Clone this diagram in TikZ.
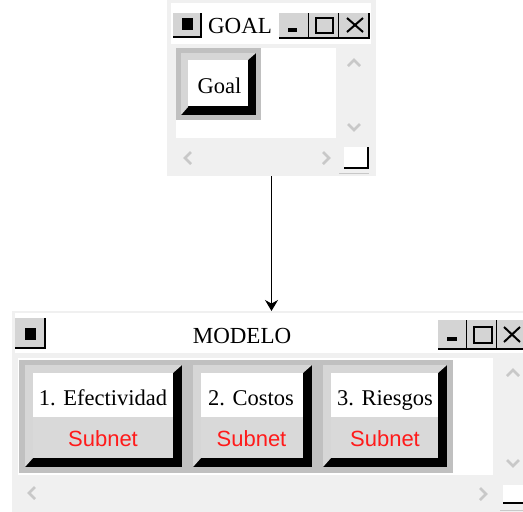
\documentclass[tikz,border=0pt]{standalone}
\usepackage{fontspec}
\setmainfont{Liberation Serif}
\newfontfamily\subfont{Liberation Sans}
\usetikzlibrary{arrows.meta}
\definecolor{winbg}{HTML}{F0F0F0}
\definecolor{framegray}{HTML}{C0C0C0}
\definecolor{bevel}{HTML}{D6D6D6}
\definecolor{facegray}{HTML}{D9D9D9}
\definecolor{chev}{HTML}{C8C8C8}
\definecolor{btngray}{HTML}{D4D4D4}
\definecolor{subred}{HTML}{FF1A1A}
% bevelled button: x0 y0 x1 y1 light dark
\newcommand\bevbtn[6]{%
  \fill[black] (#1,#2) rectangle (#3,#4);
  \fill[bevel] (#1,#4) -- (#1,#2) -- (#3,#2) -- (#3-#6,#2+#5) -- (#1+#5,#2+#5) -- (#1+#5,#4-#6) -- cycle;
}
% small title-bar button: x0 y0 x1 y1
\newcommand\tbtn[4]{%
  \fill[btngray] (#1,#2) rectangle (#3,#4);
  \draw[black, line width=1.6pt] (#1,#4) -- (#3,#4) -- (#3,#2);
}
\begin{document}
\begin{tikzpicture}[x=1pt,y=-1pt,
  winbox/.style={draw=none, fill=winbg, inner sep=0pt, outer sep=0pt, anchor=north west},
  lbl/.style={inner sep=0pt, anchor=base, font=\fontsize{22.5}{25}\selectfont},
  ttl/.style={inner sep=0pt, anchor=base, font=\fontsize{23}{26}\selectfont},
  sub/.style={inner sep=0pt, anchor=base, text=subred, font=\subfont\fontsize{22}{25}\selectfont},
  chevline/.style={draw=chev, line width=2.6pt},
  glyph/.style={draw=black, line width=2pt},
  conn/.style={draw=black, line width=1.2pt, -{Stealth[length=11pt,width=13pt]}}]
\useasboundingbox (0,0) rectangle (523,512);
\fill[white] (0,0) rectangle (523,512);

% ---------- GOAL window ----------
\node[winbox, minimum width=209pt, minimum height=176pt] (goalwin) at (167,0) {};
\fill[white] (171,3) rectangle (371,44);
\tbtn{173}{13}{201}{37}
\fill[black] (182,18) rectangle (193,30);
\node[ttl] (goaltitle) at (240,33) {GOAL};
\tbtn{279}{13}{309}{38}
\fill[black] (288,28) rectangle (297,32);
\tbtn{309}{13}{339}{38}
\draw[glyph] (316,18) rectangle (333,33);
\tbtn{339}{13}{369}{38}
\draw[glyph] (347,18) -- (363,32) (363,18) -- (347,32);
\fill[white] (176,48) rectangle (336,138);
\fill[framegray] (176,48) rectangle (261,120);
\bevbtn{181}{53}{256}{115}{7}{8}
\fill[white] (188,60) rectangle (248,106);
\node[lbl] (goalbtn) at (219.5,93) {Goal};
% scroll arrows
\draw[chevline] (348,66) -- (354,60) -- (360,66);
\draw[chevline] (348,124) -- (354,130) -- (360,124);
\draw[chevline] (191,152) -- (185,158) -- (191,164);
\draw[chevline] (323,152) -- (329,158) -- (323,164);
\fill[white] (344,147) rectangle (368,168);
\draw[black, line width=1.8pt] (344,168) -- (368,168) -- (368,147);
\draw[chev, line width=1pt] (339,173) -- (369,173);

% ---------- MODELO window ----------
\node[winbox, minimum width=511pt, minimum height=201pt] (modwin) at (12,311) {};
\fill[white] (15,313) rectangle (523,353);
\tbtn{15}{318}{45}{348}
\fill[black] (25,328) rectangle (36,340);
\node[ttl] (modtitle) at (242,343) {MODELO};
\tbtn{438}{320}{467}{349}
\fill[black] (447,337) rectangle (457,341);
\tbtn{467}{320}{497}{349}
\draw[glyph] (474,327) rectangle (492,343);
\tbtn{497}{320}{527}{349}
\draw[glyph] (504,327) -- (520,342) (520,327) -- (504,342);
\fill[white] (18,358) rectangle (493,475);
\fill[framegray] (19,360) rectangle (453,473);
% button 1
\bevbtn{25}{365}{182}{467}{8}{9}
\fill[white] (33,373) rectangle (173,417);
\fill[facegray] (33,417) rectangle (173,458);
\node[lbl] (b1) at (103,405.5) {1. Efectividad};
\node[sub] (s1) at (103,446) {Subnet};
% button 2
\bevbtn{193}{365}{312}{467}{8}{9}
\fill[white] (201,373) rectangle (303,417);
\fill[facegray] (201,417) rectangle (303,458);
\node[lbl] (b2) at (251,405.5) {2. Costos};
\node[sub] (s2) at (251.5,446) {Subnet};
% button 3
\bevbtn{323}{365}{447}{467}{8}{9}
\fill[white] (331,373) rectangle (438,417);
\fill[facegray] (331,417) rectangle (438,458);
\node[lbl] (b3) at (385,405.5) {3. Riesgos};
\node[sub] (s3) at (385,446) {Subnet};
% scroll arrows
\draw[chevline] (507,376) -- (513,370) -- (519,376);
\draw[chevline] (507,460) -- (513,466) -- (519,460);
\draw[chevline] (35,487) -- (29,493) -- (35,499);
\draw[chevline] (480,488) -- (486,494) -- (480,500);
\fill[white] (503,485) rectangle (523,503);
\draw[black, line width=1.8pt] (503,503) -- (523,503);
\draw[chev, line width=1pt] (500,510) -- (523,510);

% ---------- connector ----------
\draw[conn] (goalwin.south) -- (goalwin.south |- modwin.north);
\end{tikzpicture}
\end{document}
